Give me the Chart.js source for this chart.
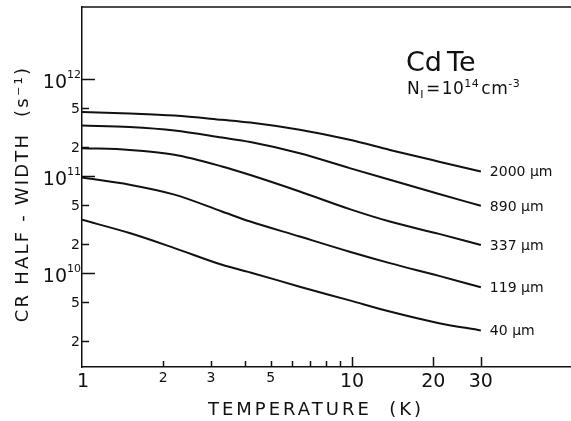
<!DOCTYPE html>
<html>
<head>
<meta charset="utf-8">
<script src="https://cdn.jsdelivr.net/npm/chart.js@4"></script>
<style>
  html, body { margin: 0; padding: 0; background: #fff; }
  canvas { display: block; }
</style>
</head>
<body>
<canvas id="chart" width="571" height="421"></canvas>
<script>
/* CR half-width vs temperature, CdTe, N_I = 1e14 cm^-3 (log-log) */

var TEMPS  = [1, 1.5, 2.2, 3.3, 4.2, 6.4, 9.8, 13.8, 21, 30];
var W2000  = [4.54e11, 4.39e11, 4.18e11, 3.78e11, 3.54e11, 2.98e11, 2.35e11, 1.85e11, 1.40e11, 1.11e11];
var W890   = [3.30e11, 3.18e11, 2.93e11, 2.48e11, 2.23e11, 1.71e11, 1.20e11, 9.1e10, 6.5e10, 4.91e10];
var W337   = [1.93e11, 1.85e11, 1.65e11, 1.25e11, 1.02e11, 6.9e10, 4.54e10, 3.38e10, 2.52e10, 1.94e10];
var W119   = [9.6e10, 8.1e10, 6.4e10, 4.29e10, 3.38e10, 2.37e10, 1.65e10, 1.26e10, 9.3e9, 7.1e9];
var W40    = [3.52e10, 2.57e10, 1.80e10, 1.21e10, 1.01e10, 7.2e9, 5.2e9, 3.99e9, 3.03e9, 2.55e9];
var SERIES = [W2000, W890, W337, W119, W40];
var SERIES_LABELS = ['2000 \u00b5m', '890 \u00b5m', '337 \u00b5m', '119 \u00b5m', '40 \u00b5m'];

var X_TICKS  = [2, 3, 4, 5, 6, 7, 8, 9, 10, 20, 30];
var X_LABELS = [1, 2, 3, 5, 10, 20, 30];
var Y_TICKS  = [2e9, 5e9, 1e10, 2e10, 5e10, 1e11, 2e11, 5e11, 1e12];
var Y_LABELS = [
  { v: 2e9, t: '2' }, { v: 5e9, t: '5' }, { v: 1e10, t: '10', s: '10' },
  { v: 2e10, t: '2' }, { v: 5e10, t: '5' }, { v: 1e11, t: '10', s: '11' },
  { v: 2e11, t: '2' }, { v: 5e11, t: '5' }, { v: 1e12, t: '10', s: '12' }
];

var INK = '#111';
var FONT = '"DejaVu Sans", sans-serif';

function isDecade(v) {
  var l = Math.log10(v);
  return Math.abs(l - Math.round(l)) < 1e-6;
}

var overlay = {
  id: 'overlay',
  afterDraw: function (chart) {
    var ctx = chart.ctx, a = chart.chartArea;
    var xs = chart.scales.x, ys = chart.scales.y;
    ctx.save();
    ctx.strokeStyle = INK; ctx.fillStyle = INK; ctx.lineWidth = 1.5;

    /* top frame */
    ctx.beginPath(); ctx.moveTo(a.left, a.top); ctx.lineTo(a.right, a.top); ctx.stroke();

    /* inward ticks */
    X_TICKS.forEach(function (v) {
      var px = Math.round(xs.getPixelForValue(v)) + 0.5;
      var len = v >= 10 ? 10 : 6;
      ctx.beginPath(); ctx.moveTo(px, a.bottom); ctx.lineTo(px, a.bottom - len); ctx.stroke();
    });
    Y_TICKS.forEach(function (v) {
      var py = Math.round(ys.getPixelForValue(v)) + 0.5;
      var len = isDecade(v) ? 13 : 7;
      ctx.beginPath(); ctx.moveTo(a.left, py); ctx.lineTo(a.left + len, py); ctx.stroke();
    });

    /* x tick labels */
    ctx.textAlign = 'center'; ctx.textBaseline = 'alphabetic';
    X_LABELS.forEach(function (v) {
      var px = xs.getPixelForValue(v);
      var big = (v === 1 || v >= 10);
      ctx.font = (big ? '19px ' : '14px ') + FONT;
      ctx.fillText(String(v), px + (v === 1 ? 1 : 0), a.bottom + (big ? 20 : 15));
    });

    /* y tick labels, powers of ten with superscripts */
    Y_LABELS.forEach(function (o) {
      var py = ys.getPixelForValue(o.v);
      ctx.textAlign = 'right';
      if (o.s) {
        ctx.font = '11px ' + FONT;
        var sw = ctx.measureText(o.s).width;
        ctx.fillText(o.s, a.left - 1, py - 1);
        ctx.font = '19px ' + FONT;
        ctx.fillText(o.t, a.left - 1 - sw, py + 9);
      } else {
        ctx.font = '14px ' + FONT;
        ctx.fillText(o.t, a.left - 2, py + 5);
      }
    });

    /* series labels at the line ends */
    ctx.font = '14px ' + FONT; ctx.textAlign = 'left';
    SERIES.forEach(function (s, i) {
      var last = s.length - 1;
      var px = xs.getPixelForValue(TEMPS[last]) + 9;
      var py = ys.getPixelForValue(s[last]) + 5;
      ctx.fillText(SERIES_LABELS[i], px, py);
    });

    /* axis titles */
    ctx.font = '18px ' + FONT; ctx.textAlign = 'center';
    ctx.letterSpacing = '3px';
    ctx.fillText('TEMPERATURE  (K)', 316, 415);
    ctx.letterSpacing = '2.2px';
    ctx.save();
    ctx.translate(28, 194); ctx.rotate(-Math.PI / 2);
    ctx.fillText('CR HALF - WIDTH  (s\u207b\u00b9)', 0, 0);
    ctx.restore();
    ctx.letterSpacing = '0px';

    /* material annotation */
    ctx.textAlign = 'left';
    ctx.font = '27px ' + FONT;
    ctx.fillText('Cd', 406, 71);
    ctx.fillText('Te', 447, 71);

    var x = 407;
    function part(txt, size, dy, gap) {
      ctx.font = size + 'px ' + FONT;
      ctx.fillText(txt, x, 94 + dy);
      x += ctx.measureText(txt).width + gap;
    }
    ctx.letterSpacing = '0.5px';
    part('N', 17, 0, 0);
    part('I', 11, 4, 2);
    part('=', 17, 0, 1);
    part('10', 17, 0, 0);
    part('14', 11, -7, 2);
    part('cm', 17, 0, 0);
    part('-3', 11, -7, 0);
    ctx.letterSpacing = '0px';

    ctx.restore();
  }
};

function toPoints(arr) {
  return TEMPS.map(function (t, i) { return { x: t, y: arr[i] }; });
}

new Chart(document.getElementById('chart'), {
  type: 'line',
  data: {
    datasets: SERIES.map(function (s, i) {
      return {
        label: SERIES_LABELS[i], data: toPoints(s),
        borderColor: INK, borderWidth: 2, pointRadius: 0,
        cubicInterpolationMode: 'monotone', fill: false
      };
    })
  },
  options: {
    responsive: false, animation: false, devicePixelRatio: 1,
    layout: { padding: { left: 82, top: 7, right: 0, bottom: 54 } },
    plugins: { legend: { display: false }, tooltip: { enabled: false } },
    scales: {
      x: {
        type: 'logarithmic', min: 1, max: 64.7,
        grid: { display: false, drawTicks: false },
        border: { display: true, color: INK, width: 1.5 },
        ticks: { display: false }
      },
      y: {
        type: 'logarithmic', min: 1.07e9, max: 5.5e12,
        grid: { display: false, drawTicks: false },
        border: { display: true, color: INK, width: 1.5 },
        ticks: { display: false }
      }
    }
  },
  plugins: [overlay]
});
</script>
</body>
</html>
